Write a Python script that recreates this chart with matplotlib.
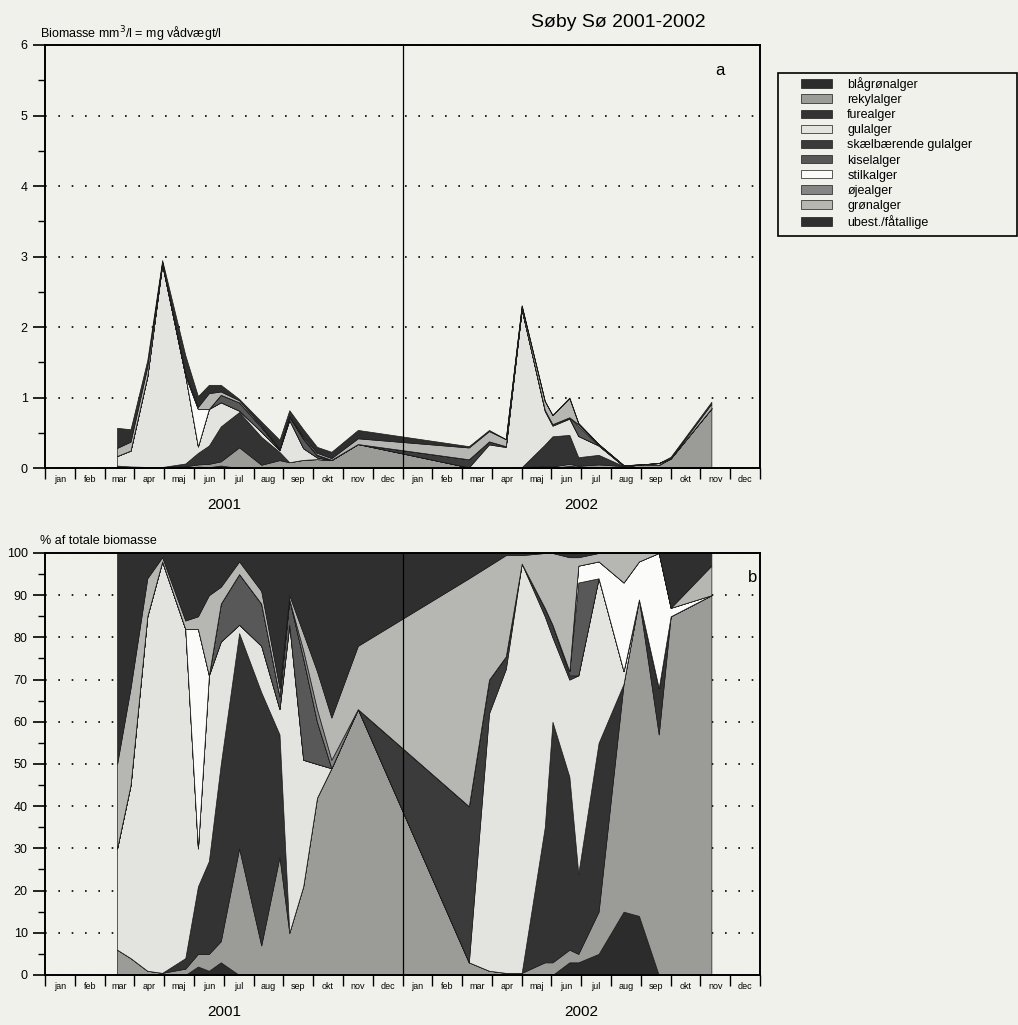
import numpy as np
import pandas as pd
import matplotlib
matplotlib.use('Agg')
import matplotlib.pyplot as plt
from matplotlib.patches import Patch, Rectangle

plt.rcParams['font.family'] = ['Liberation Sans', 'DejaVu Sans']

# sampling dates and total biomass (mm3/l)
dates = ['2001-03-14', '2001-03-28', '2001-04-14', '2001-04-29', '2001-05-23',
         '2001-06-05', '2001-06-16', '2001-06-28', '2001-07-17', '2001-08-09',
         '2001-08-28', '2001-09-07', '2001-09-21', '2001-10-05', '2001-10-20',
         '2001-11-16', '2002-03-08', '2002-03-29', '2002-04-15', '2002-05-01',
         '2002-05-25', '2002-06-02', '2002-06-19', '2002-06-28', '2002-07-19',
         '2002-08-14', '2002-08-30', '2002-09-19', '2002-10-01', '2002-11-12']
total = [0.57, 0.55, 1.53, 2.95, 1.60, 1.02, 1.18, 1.18, 0.98, 0.66,
         0.40, 0.82, 0.55, 0.30, 0.23, 0.54, 0.31, 0.54, 0.41, 2.31,
         0.95, 0.75, 1.00, 0.64, 0.34, 0.04, 0.05, 0.07, 0.16, 0.94]

# share of total biomass (%) per group
blaagroen = [0, 0, 0, 0, 0, 2, 1, 3, 0, 0, 0, 0, 0, 0, 0,
             0, 0, 0, 0, 0, 0, 0, 3, 3, 5, 15, 14, 0, 0, 0]
rekyl = [6, 4, 1, 0.5, 1.5, 3, 4, 5, 30, 7, 28, 10, 21, 42, 49,
         63, 3, 1, 0.5, 0.5, 3, 3, 3, 2, 10, 54, 75, 57, 85, 90]
fure = [0, 0, 0, 0, 2.5, 16, 22, 42, 51, 60, 29, 0, 0, 0, 0,
        0, 0, 0, 0, 0, 32, 57, 41, 19, 40, 0, 0, 11, 0, 0]
gul = [24, 41, 84, 97.5, 78, 9, 44, 29, 2, 11, 6, 73, 30, 8, 0,
       0, 0, 61, 72, 97, 50, 20, 23, 47, 39, 3, 0, 0, 0, 0]
skael = [0, 0, 0, 0, 0, 0, 0, 0, 0, 0, 0, 0, 0, 0, 0,
         0, 37, 8, 3, 0, 2, 3, 1, 0, 0, 0, 0, 0, 0, 0]
kisel = [0, 0, 0, 0, 0, 0, 0, 9, 12, 10, 3, 6, 24, 10, 0,
         0, 0, 0, 0, 0, 0, 0, 1, 22, 0, 0, 0, 0, 0, 0]
stilk = [0, 0, 0, 0, 0, 52, 0, 0, 0, 0, 0, 0, 0, 0, 0,
         0, 0, 0, 0, 0, 0, 0, 0, 4, 4, 21, 9, 32, 2, 0]
oeje = [0, 0, 0, 0, 0, 0, 0, 0, 0, 0, 0, 0, 2, 3, 2,
        0, 0, 0, 0, 0, 0, 0, 0, 0, 0, 0, 0, 0, 0, 0]
groen = [20, 23, 9, 1, 2, 3, 19, 4, 3, 3, 2, 1, 4, 9, 10,
         15, 54, 27, 24, 2, 13, 17, 27, 2, 2, 7, 2, 0, 0, 7]
ubest = [50, 32, 6, 1, 16, 15, 10, 8, 2, 9, 32, 10, 19, 28, 39,
         22, 6, 3, 0.5, 0.5, 0, 0, 1, 1, 0, 0, 0, 0, 13, 3]

labels = ['blågrønalger', 'rekylalger', 'furealger', 'gulalger',
          'skælbærende gulalger', 'kiselalger', 'stilkalger', 'øjealger',
          'grønalger', 'ubest./fåtallige']
colors = ['#2c2c2c', '#9b9b98', '#333333', '#e3e3df', '#3b3b3b',
          '#585858', '#fbfbf9', '#858585', '#b6b6b3', '#2f2f2f']
months = ['jan', 'feb', 'mar', 'apr', 'maj', 'jun',
          'jul', 'aug', 'sep', 'okt', 'nov', 'dec']


def month_pos(s):
    d = pd.Timestamp(s)
    return (d.year - 2001) * 12 + d.month - 1 + (d.day - 1) / d.days_in_month


x = np.array([month_pos(d) for d in dates])
shares = np.array([blaagroen, rekyl, fure, gul, skael, kisel, stilk, oeje, groen, ubest], float)
pct = shares / shares.sum(axis=0) * 100
biomass = pct / 100 * np.array(total)

bg = '#f1f1ec'
edge = '#1a1a1a'
fig = plt.figure(figsize=(10.18, 10.25), dpi=100, facecolor=bg)
ax1 = fig.add_axes([0.0442, 0.5434, 0.7024, 0.4127])
ax2 = fig.add_axes([0.0442, 0.0488, 0.7024, 0.4117])

for ax, vals, ymax, ystep in [(ax1, biomass, 6, 1), (ax2, pct, 100, 10)]:
    ax.set_facecolor(bg)
    ax.stackplot(x, vals, colors=colors, edgecolor=edge, linewidth=0.5, zorder=2)
    ax.axvline(12, color='k', lw=0.9, zorder=3)
    ax.set_xlim(0, 24)
    ax.set_ylim(0, ymax)
    ax.set_xticks(range(25))
    ax.set_xticklabels([])
    ax.set_xticks(np.arange(0.5, 24, 1), minor=True)
    ax.set_xticklabels(months * 2, minor=True, fontsize=6.5)
    ax.tick_params(axis='x', which='major', length=8, width=1, direction='out')
    ax.tick_params(axis='x', which='minor', length=0, pad=5)
    ax.set_yticks(np.arange(0, ymax + ystep / 2, ystep))
    ax.set_yticks(np.arange(0, ymax, ystep / 2), minor=True)
    ax.tick_params(axis='y', which='major', length=9, width=1.2, labelsize=9)
    ax.tick_params(axis='y', which='minor', length=5, width=1)
    ax.grid(axis='y', which='major', linestyle=(0, (1, 7)), color='k', linewidth=1.2, zorder=1)
    ax.set_axisbelow(True)
    for s in ax.spines.values():
        s.set_linewidth(1.4)
    ax.text(6, -0.088, '2001', transform=ax.get_xaxis_transform(), ha='center', va='center', fontsize=11)
    ax.text(18, -0.088, '2002', transform=ax.get_xaxis_transform(), ha='center', va='center', fontsize=11)

ax1.text(0.944, 0.94, 'a', transform=ax1.transAxes, ha='center', va='center', fontsize=12)
ax2.text(0.989, 0.943, 'b', transform=ax2.transAxes, ha='center', va='center', fontsize=12)

fig.text(0.607, 0.978, 'Søby Sø 2001-2002', ha='center', va='center', fontsize=14)
fig.text(0.039, 0.967, 'Biomasse mm$^3$/l = mg vådvægt/l', ha='left', va='center', fontsize=9)
fig.text(0.039, 0.472, '% af totale biomasse', ha='left', va='center', fontsize=9)

# legend box drawn separately so the entries can sit inset like the original
fig.patches.append(Rectangle((778 / 1018, 1 - 236 / 1025), 239 / 1018, 163 / 1025,
                             transform=fig.transFigure, fill=False, edgecolor='k', lw=1.2))
handles = [Patch(facecolor=c, edgecolor=edge, linewidth=0.5) for c in colors]
fig.legend(handles, labels, loc='upper left', bbox_to_anchor=(801 / 1018, 1 - 77 / 1025),
           frameon=False, fontsize=9, handlelength=2.5, handleheight=0.65,
           labelspacing=0.25, handletextpad=1.2, borderpad=0, borderaxespad=0)

fig.savefig('out.png', dpi=100, facecolor=bg)
